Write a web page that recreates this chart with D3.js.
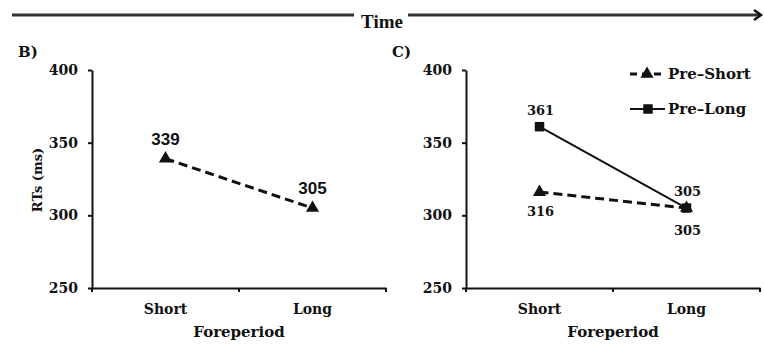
<!DOCTYPE html>
<html>
<head>
<meta charset="utf-8">
<script src="https://cdn.jsdelivr.net/npm/d3@7"></script>
<style>
  body { margin: 0; background: #fff; }
  text { font-family: "DejaVu Serif", serif; font-weight: bold; fill: #111; }
</style>
</head>
<body>
<div id="chart"></div>
<script>
// Data
var categories = ["Short", "Long"];
var yTicks = [250, 300, 350, 400];
var panelB = [339, 305];          // single series (dashed, triangles)
var preShort = [316, 305];
var preLong = [361, 305];
var seriesNames = ["Pre\u2013Short", "Pre\u2013Long"];

var width = 764;
var height = 344;

var svg = d3
  .select("#chart")
  .append("svg")
  .attr("width", width)
  .attr("height", height);

// Time arrow on top
var timeG = svg.append("g");
timeG.append("line")
  .attr("x1", 12).attr("x2", 354).attr("y1", 15).attr("y2", 15)
  .style("stroke", "#333").style("stroke-width", 3);
timeG.append("line")
  .attr("x1", 408).attr("x2", 760).attr("y1", 15).attr("y2", 15)
  .style("stroke", "#333").style("stroke-width", 3);
timeG.append("path")
  .attr("d", "M754,10 L761,15 L754,20")
  .style("fill", "none").style("stroke", "#111").style("stroke-width", 2.5);
timeG.append("text")
  .attr("x", 382).attr("y", 28)
  .attr("text-anchor", "middle")
  .style("font-family", "Liberation Serif, serif")
  .style("font-size", "19px")
  .text("Time");

var y = d3.scaleLinear().domain([250, 400]).range([288, 70]);

var triangle = d3.symbol().type(d3.symbolTriangle).size(75);
var square = d3.symbol().type(d3.symbolSquare).size(90);

function drawPanel(x0, x1, letter, letterX) {
  var x = d3.scaleBand().domain(categories).range([x0, x1]);
  var g = svg.append("g");

  g.append("text")
    .attr("x", letterX).attr("y", 57)
    .style("font-size", "15px")
    .text(letter);

  // y axis
  var yAxis = g.append("g")
    .attr("transform", "translate(" + x0 + ",0)")
    .call(d3.axisLeft(y).tickValues(yTicks).tickSize(4).tickSizeOuter(0));
  yAxis.select(".domain").style("stroke", "#111").style("stroke-width", 2);
  yAxis.selectAll(".tick line").style("stroke", "#111").style("stroke-width", 2);
  yAxis.selectAll(".tick text")
    .attr("x", -14)
    .style("font-family", "DejaVu Serif, serif")
    .style("font-weight", "bold")
    .style("font-size", "14px")
    .style("fill", "#111");

  // x axis: labels at band centres, ticks at band edges
  var xAxis = g.append("g")
    .attr("transform", "translate(0," + y(250) + ")")
    .call(d3.axisBottom(x).tickSize(0).tickSizeOuter(0).tickPadding(16));
  xAxis.select(".domain").style("stroke", "#111").style("stroke-width", 2);
  xAxis.selectAll(".tick text")
    .style("font-family", "DejaVu Serif, serif")
    .style("font-weight", "bold")
    .style("font-size", "14px")
    .style("fill", "#111");
  var edges = [x0, x(categories[1]), x1];
  g.selectAll(".edge")
    .data(edges)
    .enter()
    .append("line")
    .attr("x1", (d) => d).attr("x2", (d) => d)
    .attr("y1", y(250)).attr("y2", y(250) + 4)
    .style("stroke", "#111").style("stroke-width", 2);

  g.append("text")
    .attr("x", (x0 + x1) / 2).attr("y", 337)
    .attr("text-anchor", "middle")
    .style("font-size", "15px")
    .text("Foreperiod");

  return x;
}

function cx(x, c) {
  return x(c) + x.bandwidth() / 2;
}

function drawSeries(x, values, dashed, marker) {
  var line = d3.line()
    .x((d, i) => cx(x, categories[i]))
    .y((d) => y(d));
  svg.append("path")
    .datum(values)
    .attr("d", line)
    .style("fill", "none")
    .style("stroke", "#111")
    .style("stroke-width", dashed ? 3 : 2)
    .style("stroke-dasharray", dashed ? "9,5" : null);
  svg.selectAll(null)
    .data(values)
    .enter()
    .append("path")
    .attr("d", marker)
    .attr("transform", (d, i) => "translate(" + cx(x, categories[i]) + "," + y(d) + ")")
    .style("fill", "#111");
}

// Panel B
var xB = drawPanel(92, 386, "B)", 18);
svg.append("text")
  .attr("transform", "translate(42,180) rotate(-90)")
  .attr("text-anchor", "middle")
  .style("font-size", "13px")
  .text("RTs (ms)");
drawSeries(xB, panelB, true, triangle);
svg.selectAll(".lblB")
  .data(panelB)
  .enter()
  .append("text")
  .attr("x", (d, i) => cx(xB, categories[i]))
  .attr("y", (d) => y(d) - 14)
  .attr("text-anchor", "middle")
  .style("font-family", "Liberation Sans, sans-serif")
  .style("font-size", "17px")
  .text((d) => d);

// Panel C
var xC = drawPanel(466, 760, "C)", 392);
drawSeries(xC, preShort, true, triangle);
drawSeries(xC, preLong, false, square);

// labels: Pre-Long above, Pre-Short below
svg.selectAll(".lblL")
  .data(preLong)
  .enter()
  .append("text")
  .attr("x", (d, i) => cx(xC, categories[i]) + 1)
  .attr("y", (d) => y(d) - 12)
  .attr("text-anchor", "middle")
  .style("font-size", "13px")
  .text((d) => d);
svg.selectAll(".lblS")
  .data(preShort)
  .enter()
  .append("text")
  .attr("x", (d, i) => cx(xC, categories[i]) + 1)
  .attr("y", (d, i) => y(d) + (i === 0 ? 24 : 27))
  .attr("text-anchor", "middle")
  .style("font-size", "13px")
  .text((d) => d);

// Legend
var legend = svg.append("g");
var legY = [74, 109];
legend.append("line")
  .attr("x1", 630).attr("x2", 664).attr("y1", legY[0]).attr("y2", legY[0])
  .style("stroke", "#111").style("stroke-width", 3).style("stroke-dasharray", "7,5");
legend.append("path")
  .attr("d", triangle)
  .attr("transform", "translate(647," + legY[0] + ")")
  .style("fill", "#111");
legend.append("line")
  .attr("x1", 630).attr("x2", 665).attr("y1", legY[1]).attr("y2", legY[1])
  .style("stroke", "#111").style("stroke-width", 2);
legend.append("path")
  .attr("d", square)
  .attr("transform", "translate(648," + legY[1] + ")")
  .style("fill", "#111");
legend.selectAll(".legText")
  .data(seriesNames)
  .enter()
  .append("text")
  .attr("x", 668)
  .attr("y", (d, i) => legY[i] + 5)
  .style("font-size", "15px")
  .text((d) => d);
</script>
</body>
</html>
